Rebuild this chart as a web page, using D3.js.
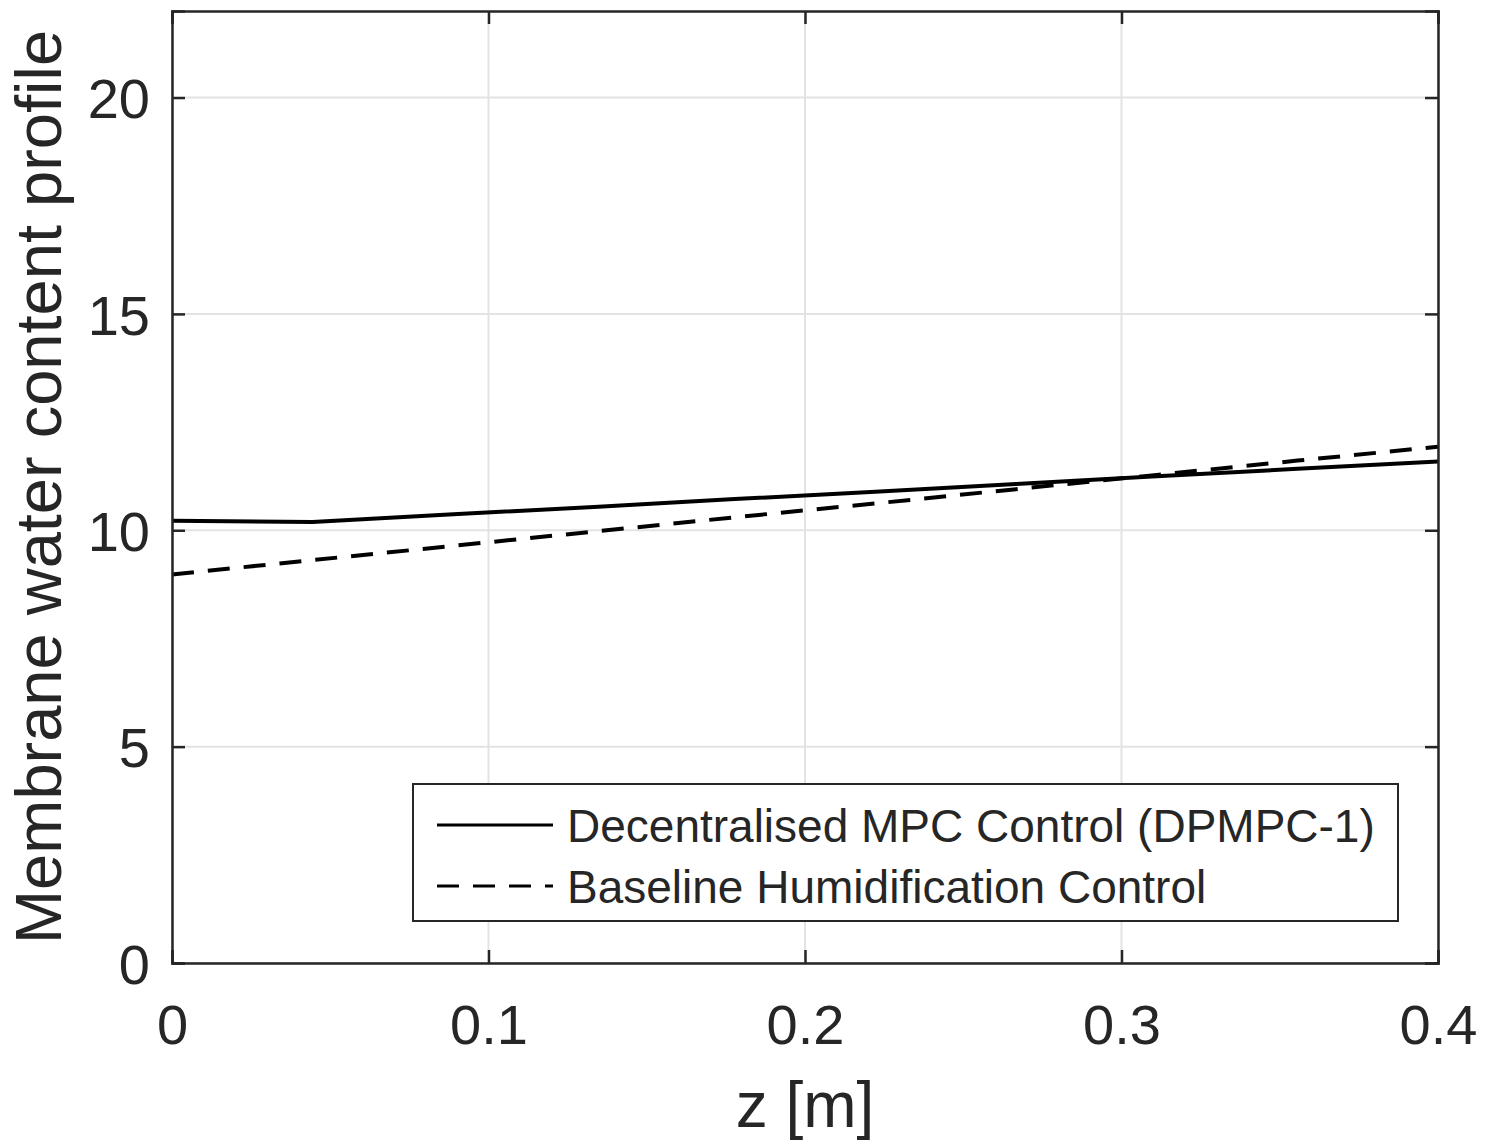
<!DOCTYPE html>
<html>
<head>
<meta charset="utf-8">
<script src="https://cdn.jsdelivr.net/npm/d3@7"></script>
<style>
  body { margin: 0; background: #fff; }
  svg text { font-family: "Liberation Sans", Arial, Helvetica, sans-serif; fill: #262626; }
</style>
</head>
<body>
<div id="chart"></div>
<script>
// Membrane water content along the channel, two control strategies

// positions along the channel (10 nodes)
const zNodes = [0, 0.0444, 0.0889, 0.1333, 0.1778, 0.2222, 0.2667, 0.3111, 0.3556, 0.4];
// Decentralised MPC Control (DPMPC-1)
const mpcValues = [10.22, 10.19, 10.37, 10.54, 10.72, 10.89, 11.07, 11.25, 11.42, 11.59];
// Baseline Humidification Control
const baseValues = [8.98, 9.31, 9.64, 9.97, 10.30, 10.62, 10.95, 11.28, 11.61, 11.93];

const seriesNames = ["Decentralised MPC Control (DPMPC-1)", "Baseline Humidification Control"];
const xTicks = [0, 0.1, 0.2, 0.3, 0.4];
const yTicks = [0, 5, 10, 15, 20];

const X_AXIS_LABEL = "z [m]";
const Y_AXIS_LABEL = "Membrane water content profile";

const W = 1499, H = 1144;
const margin = {top: 11, right: 61, bottom: 181, left: 172};
const width = W - margin.left - margin.right;
const height = H - margin.top - margin.bottom;

const svg = d3.select("#chart").append("svg")
    .attr("width", W)
    .attr("height", H);

const g = svg.append("g")
    .attr("transform", `translate(${margin.left},${margin.top})`);

const x = d3.scaleLinear().domain([0, 0.4]).range([0, width]);
const y = d3.scaleLinear().domain([0, 22]).range([height, 0]);

// grid
g.append("g").selectAll("line")
    .data(xTicks)
    .join("line")
    .attr("x1", d => x(d)).attr("x2", d => x(d))
    .attr("y1", 0).attr("y2", height)
    .attr("stroke", "#e3e3e3").attr("stroke-width", 2);
g.append("g").selectAll("line")
    .data(yTicks)
    .join("line")
    .attr("x1", 0).attr("x2", width)
    .attr("y1", d => y(d)).attr("y2", d => y(d))
    .attr("stroke", "#e3e3e3").attr("stroke-width", 2);

// data lines
const line = d3.line().x(d => x(d[0])).y(d => y(d[1]));
const mpcData = zNodes.map((z, i) => [z, mpcValues[i]]);
const baseData = zNodes.map((z, i) => [z, baseValues[i]]);

g.append("path")
    .datum(mpcData)
    .attr("d", line)
    .attr("fill", "none")
    .attr("stroke", "#000")
    .attr("stroke-width", 4);

g.append("path")
    .datum(baseData)
    .attr("d", line)
    .attr("fill", "none")
    .attr("stroke", "#000")
    .attr("stroke-width", 4)
    .attr("stroke-dasharray", "22,14");

// axes (MATLAB style box with inward ticks)
const tickLen = 13;
const xAxis = g.append("g")
    .attr("transform", `translate(0,${height})`)
    .call(d3.axisBottom(x).tickValues(xTicks).tickSize(-tickLen).tickPadding(41)
        .tickFormat(d => d === 0 ? "0" : d3.format(".1f")(d)));
const yAxis = g.append("g")
    .call(d3.axisLeft(y).tickValues(yTicks).tickSize(-tickLen).tickPadding(22));
const xTop = g.append("g")
    .call(d3.axisTop(x).tickValues(xTicks).tickSize(-tickLen).tickFormat(""));
const yRight = g.append("g")
    .attr("transform", `translate(${width},0)`)
    .call(d3.axisRight(y).tickValues(yTicks).tickSize(-tickLen).tickFormat(""));

[xAxis, yAxis, xTop, yRight].forEach(a => {
    a.select(".domain").attr("stroke", "#262626").attr("stroke-width", 2.5);
    a.selectAll(".tick line").attr("stroke", "#262626").attr("stroke-width", 2.5);
    a.selectAll(".tick text").style("font-size", "56px").attr("fill", "#262626");
});
xAxis.selectAll(".tick text").attr("dy", "0.71em");
yAxis.selectAll(".tick text").attr("dy", "0.36em");

// axis labels
g.append("text")
    .attr("x", width / 2)
    .attr("y", height + 164)
    .attr("text-anchor", "middle")
    .style("font-size", "64px")
    .text(X_AXIS_LABEL);

g.append("text")
    .attr("transform", "rotate(-90)")
    .attr("x", -height / 2)
    .attr("y", -margin.left + 61)
    .attr("text-anchor", "middle")
    .style("font-size", "65px")
    .text(Y_AXIS_LABEL);

// legend
const legend = svg.append("g").attr("transform", "translate(413,784)");
legend.append("rect")
    .attr("width", 985).attr("height", 137)
    .attr("fill", "#fff")
    .attr("stroke", "#262626").attr("stroke-width", 2);

const legendRows = [
    {name: seriesNames[0], dash: null, cy: 41},
    {name: seriesNames[1], dash: "22,14", cy: 102}
];
legendRows.forEach(r => {
    legend.append("line")
        .attr("x1", 24).attr("x2", 140)
        .attr("y1", r.cy).attr("y2", r.cy)
        .attr("stroke", "#000").attr("stroke-width", 3)
        .attr("stroke-dasharray", r.dash);
    legend.append("text")
        .attr("x", 154).attr("y", r.cy)
        .attr("dy", "0.36em")
        .style("font-size", "46px")
        .attr("fill", "#000")
        .text(r.name);
});
</script>
</body>
</html>
